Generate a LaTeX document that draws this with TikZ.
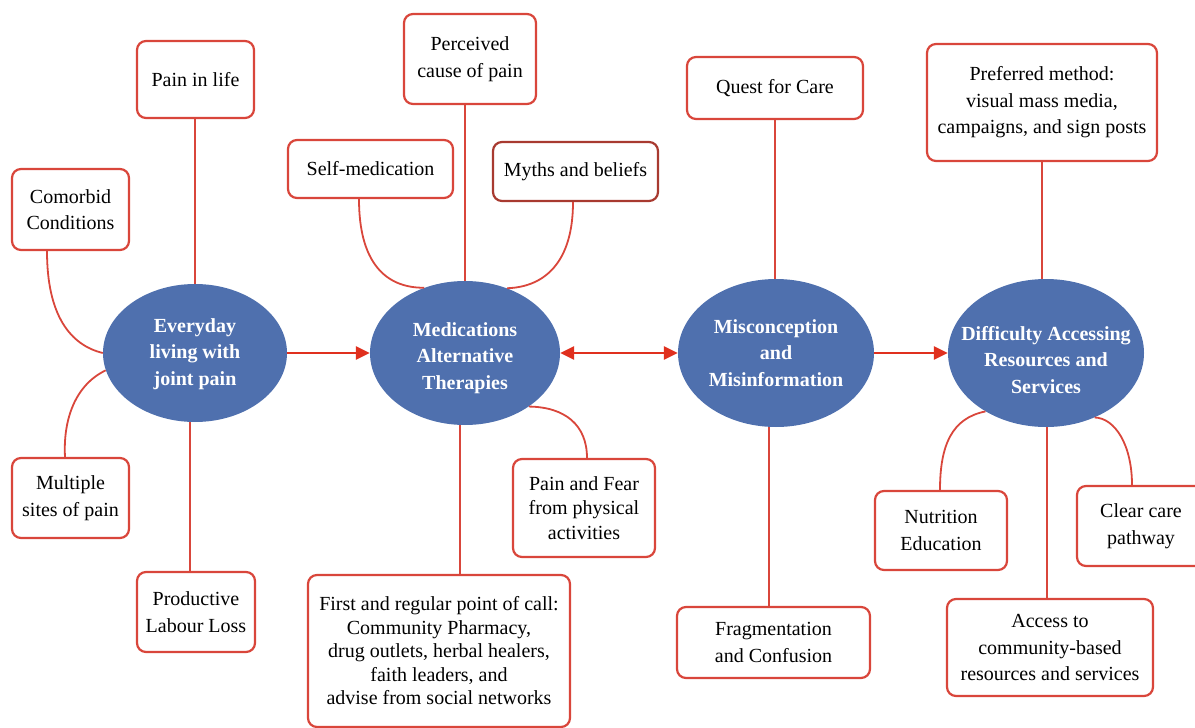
\documentclass[tikz,border=0pt]{standalone}
\usepackage{fontspec}
\setmainfont{Liberation Serif}
\usetikzlibrary{arrows.meta,shapes.geometric}
\definecolor{boxred}{HTML}{D9463B}
\definecolor{darkred}{HTML}{A83A30}
\definecolor{arrred}{HTML}{E0301E}
\definecolor{ellblue}{HTML}{4F70AE}
\begin{document}
\begin{tikzpicture}[x=1pt,y=-1pt,
  rbox/.style={draw=boxred, line width=2.2pt, rounded corners=9pt, fill=white, align=center, inner sep=0pt, font=\fontsize{20}{26.5}\selectfont},
  hub/.style={ellipse, fill=ellblue, inner sep=0pt},
  htext/.style={text=white, font=\bfseries\fontsize{20}{26.5}\selectfont, align=center},
  conn/.style={draw=boxred, line width=1.8pt},
  flow/.style={draw=arrred, line width=2.8pt, -{Triangle[length=14pt,width=13pt]}},
  dflow/.style={draw=arrred, line width=2.8pt, {Triangle[length=14pt,width=13pt]}-{Triangle[length=14pt,width=13pt]}},
]
\useasboundingbox (0,0) rectangle (1195,728);

% hubs
\node[hub, minimum width=184pt, minimum height=138pt,
  label={[htext,yshift=-1pt]center:{Everyday\\living with\\joint pain}}] (e1) at (195,353) {};
\node[hub, minimum width=190pt, minimum height=144pt,
  label={[htext,yshift=-5pt]center:{Medications\\Alternative\\Therapies}}] (e2) at (465,353) {};
\node[hub, minimum width=196pt, minimum height=148pt,
  label={[htext]center:{Misconception\\and\\Misinformation}}] (e3) at (776,353) {};
\node[hub, minimum width=196pt, minimum height=148pt,
  label={[htext,yshift=-7pt]center:{Difficulty Accessing\\Resources and\\Services}}] (e4) at (1046,353) {};

% boxes
\node[rbox, minimum width=117pt, minimum height=77pt] (pil) at (195.5,79.5) {Pain in life};
\node[rbox, minimum width=117pt, minimum height=81pt] (com) at (70.5,209.5) {Comorbid\\Conditions};
\node[rbox, minimum width=117pt, minimum height=80pt] (msp) at (70.5,498) {Multiple\\sites of pain};
\node[rbox, minimum width=118pt, minimum height=80pt] (pll) at (196,612) {Productive\\Labour Loss};
\node[rbox, minimum width=132pt, minimum height=90pt] (pcp) at (470,59) {Perceived\\cause of pain};
\node[rbox, minimum width=165pt, minimum height=58pt] (sm) at (370.5,169) {Self-medication};
\node[rbox, draw=darkred, minimum width=165pt, minimum height=59pt] (myb) at (575.5,171.5) {Myths and beliefs};
\node[rbox, minimum width=142pt, minimum height=98pt, font=\fontsize{20}{24.5}\selectfont] (pff) at (584,508) {Pain and Fear\\from physical\\activities};
\node[rbox, minimum width=262pt, minimum height=152pt, font=\fontsize{20}{23.5}\selectfont] (frc) at (439,651) {First and regular point of call:\\Community Pharmacy,\\drug outlets, herbal healers,\\faith leaders, and\\advise from social networks};
\node[rbox, minimum width=176pt, minimum height=62pt] (qfc) at (775,88) {Quest for Care};
\node[rbox, minimum width=193pt, minimum height=71pt] (fac) at (773.5,642.5) {Fragmentation\\and Confusion};
\node[rbox, minimum width=230pt, minimum height=117pt] (pm) at (1042,102.5) {Preferred method:\\visual mass media,\\campaigns, and sign posts};
\node[rbox, minimum width=132pt, minimum height=79pt] (ne) at (941,530.5) {Nutrition\\Education};
\node[rbox, minimum width=128pt, minimum height=80pt] (ccp) at (1141,526) {Clear care\\pathway};
\node[rbox, minimum width=206pt, minimum height=97pt] (acc) at (1050,647.5) {Access to\\community-based\\resources and services};

% connectors
\draw[conn] ([xshift=-0.5pt]pil.south) -- ([xshift=-0.5pt]pil.south |- e1.north);
\draw[conn] ([xshift=-23.5pt]com.south) .. controls (47,315) and (70,345) .. (e1.180);
\draw[conn] ([xshift=-5.5pt]msp.north) .. controls (63,420) and (75,385) .. (e1.191);
\draw[conn] ([xshift=-6pt]pll.north) -- ([xshift=-6pt]pll.north |- e1.south);

\draw[conn] (e2.north) -- (e2.north |- pcp.south);
\draw[conn] ([xshift=-11.5pt]sm.south) .. controls (359,262) and (385,288) .. (e2.122);
\draw[conn] ([xshift=-2.5pt]myb.south) .. controls (573,262) and (545,287) .. (e2.57);
\draw[conn] ([xshift=3pt]pff.north) .. controls (587,425) and (565,407) .. (e2.-40);
\draw[conn] ([xshift=21pt]frc.north) -- ([xshift=21pt]frc.north |- e2.south);

\draw[conn] (qfc.south) -- (qfc.south |- e3.north);
\draw[conn] ([xshift=-4.5pt]fac.north) -- ([xshift=-4.5pt]fac.north |- e3.south);

\draw[conn] (pm.south) -- (pm.south |- e4.north);
\draw[conn] ([xshift=-1pt]ne.north) .. controls (940,445) and (952,418) .. (e4.224);
\draw[conn] ([xshift=-9pt]ccp.north) .. controls (1132,445) and (1115,418) .. (e4.-53);
\draw[conn] ([xshift=-3pt]acc.north) -- ([xshift=-3pt]acc.north |- e4.south);

% main flow
\draw[flow] (e1.east) -- (e2.west);
\draw[dflow] (e2.east) -- (e3.west);
\draw[flow] (e3.east) -- (e4.west);
\end{tikzpicture}
\end{document}
